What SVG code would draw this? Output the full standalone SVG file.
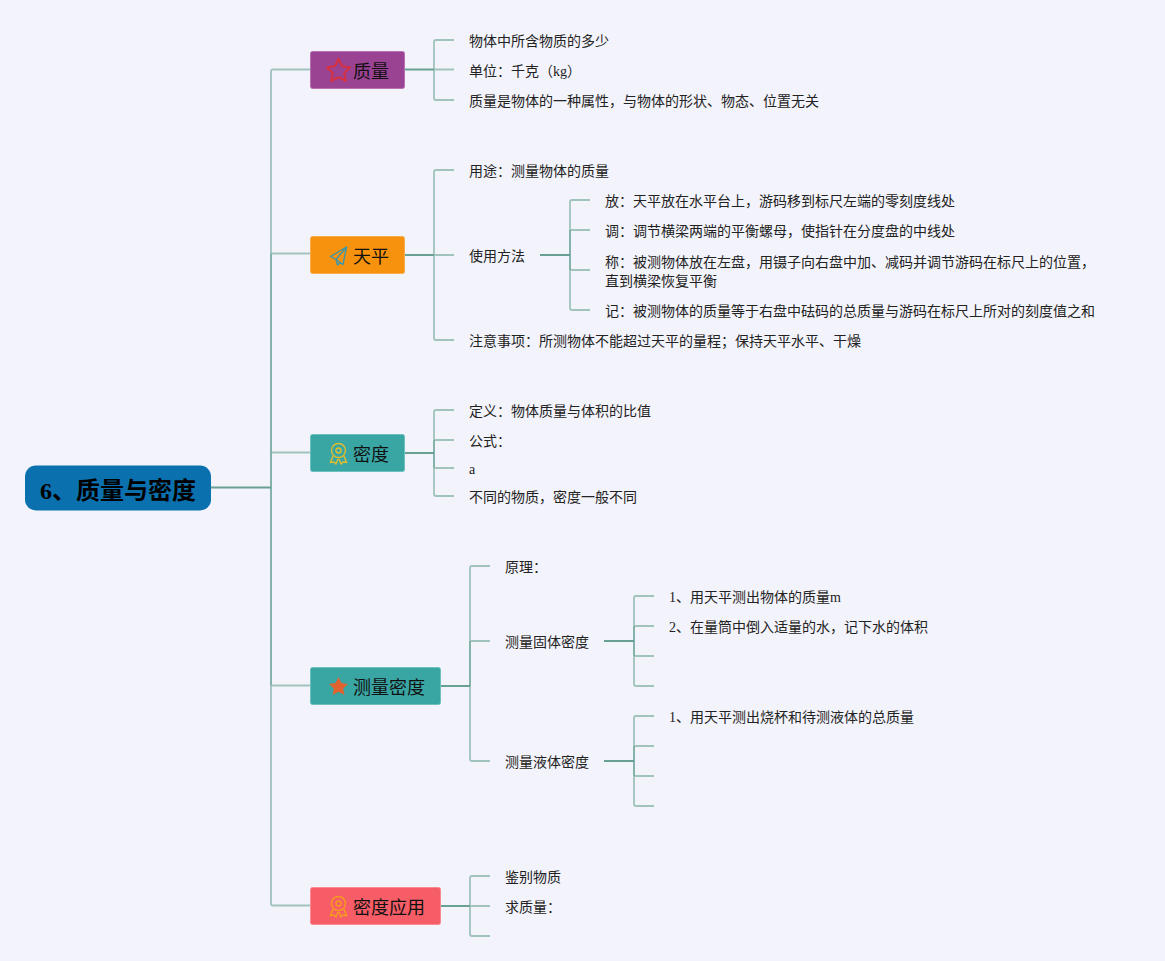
<svg xmlns="http://www.w3.org/2000/svg" width="1165" height="961" viewBox="0 0 1165 961">
<style>
text{font-family:"Liberation Serif","Noto Sans CJK SC",serif;fill:#111}
.l{font-size:14px;fill:#222}
.t{font-size:18px}
.r{font-size:24px;font-weight:700;fill:#000}
.c{fill:none;stroke:#a0c3be;stroke-width:1.800}
.d{fill:none;stroke:#68a093;stroke-width:2}
.s{fill:none;stroke:#68a093;stroke-width:1.800;opacity:.6}
.box{stroke-width:1}
</style>
<rect width="1165" height="961" fill="#f3f3fb"/>
<g id="connectors">
<path class="c" d="M271 904V71.500Q271 69.500 273 69.500H310M271 253.500H310M271 452.500H310M271 685.500H310M271 903.500Q271 905.500 273 905.500H310"/>
<path class="s" d="M271 253.500V685.500"/>
<path class="d" d="M211 487.500H271"/>
<path class="c" d="M434 98V42Q434 40 436 40H454M434 69.500H454M434 98Q434 100 436 100H454"/>
<path class="d" d="M405 69.500H434"/>
<path class="c" d="M434 338V172Q434 170 436 170H454M434 255H454M434 338Q434 340 436 340H454"/>
<path class="d" d="M405 255H434"/>
<path class="c" d="M570 308V202Q570 200 572 200H590M570 230H590M570 270H590M570 308Q570 310 572 310H590"/>
<path class="d" d="M540 255H570"/><path class="s" d="M570 230V270"/>
<path class="c" d="M434 494V412Q434 410 436 410H454M434 440H454M434 468H454M434 494Q434 496 436 496H454"/>
<path class="d" d="M405 453H434"/><path class="s" d="M434 440V468"/>
<path class="c" d="M470 759V568Q470 566 472 566H490M470 641H490M470 759Q470 761 472 761H490"/>
<path class="d" d="M441 686H470"/><path class="s" d="M470 641V686"/>
<path class="c" d="M634 684V598Q634 596 636 596H654M634 626H654M634 656H654M634 684Q634 686 636 686H654"/>
<path class="d" d="M604 641H634"/><path class="s" d="M634 626V656"/>
<path class="c" d="M634 804V718Q634 716 636 716H654M634 746H654M634 776H654M634 804Q634 806 636 806H654"/>
<path class="d" d="M604 761H634"/><path class="s" d="M634 746V776"/>
<path class="c" d="M470 934V878Q470 876 472 876H490M470 906H490M470 934Q470 936 472 936H490"/>
<path class="d" d="M441 906H470"/>
</g>
<g id="root"><rect x="25" y="465.500" width="186" height="45" rx="11" fill="#0b71ae"/><text class="r" x="40" y="499">6、质量与密度</text></g>
<g id="topic-mass"><rect class="box" x="310.500" y="51.500" width="94" height="37" rx="2" fill="#9b4393" stroke="#b870b0"/>
<path d="M338.500 59l3.600 7.300 8 1.100-5.800 5.600 1.400 8-7.200-3.800-7.200 3.800 1.400-8-5.800-5.600 8-1.100z" fill="none" stroke="#d5303f" stroke-width="2" stroke-linejoin="round"/>
<text class="t" x="353" y="78">质量</text></g>
<g id="topic-balance"><rect class="box" x="310.500" y="236.500" width="94" height="37" rx="2" fill="#f6920d" stroke="#f8ac4c"/>
<path d="M346.500 247L330.500 256.500L336 259.500L346.500 247L343 264.500L336 259.500L337.500 265L340.500 262" fill="none" stroke="#3f96a8" stroke-width="1.400" stroke-linejoin="round"/>
<text class="t" x="353" y="263">天平</text></g>
<g id="topic-density"><rect class="box" x="310.500" y="434.500" width="94" height="37" rx="2" fill="#39a6a4" stroke="#6cc0be"/>
<g fill="none" stroke="#e0bc2e" stroke-width="1.400"><circle cx="338.500" cy="450.500" r="7"/><circle cx="338.500" cy="450.500" r="2.500"/><path d="M333 456l-2.500 6.500 3.500-.5 2 2 2-5M344 456l2.500 6.500-3.500-.5-2 2-2-5"/></g>
<text class="t" x="353" y="461">密度</text></g>
<g id="topic-measure"><rect class="box" x="310.500" y="667.500" width="130" height="37" rx="2" fill="#39a6a4" stroke="#6cc0be"/>
<path d="M338.500 677l2.900 6 6.600.9-4.800 4.600 1.200 6.500-5.900-3.200-5.900 3.200 1.200-6.500-4.800-4.600 6.600-.9z" fill="#e0622e"/>
<text class="t" x="353" y="694">测量密度</text></g>
<g id="topic-apply"><rect class="box" x="310.500" y="887.500" width="130" height="37" rx="2" fill="#f65d66" stroke="#f98a90"/>
<g fill="none" stroke="#f59a1f" stroke-width="1.500"><circle cx="338.500" cy="903.500" r="7"/><circle cx="338.500" cy="903.500" r="2.500"/><path d="M333 909l-2.500 6.500 3.500-.5 2 2 2-5M344 909l2.500 6.500-3.500-.5-2 2-2-5"/></g>
<text class="t" x="353" y="914">密度应用</text></g>
<g id="mass-items">
<text class="l" x="469" y="46">物体中所含物质的多少</text>
<text class="l" x="469" y="76">单位：千克（kg）</text>
<text class="l" x="469" y="106">质量是物体的一种属性，与物体的形状、物态、位置无关</text>
</g>
<g id="balance-items">
<text class="l" x="469" y="176">用途：测量物体的质量</text>
<text class="l" x="469" y="261">使用方法</text>
<text class="l" x="469" y="346">注意事项：所测物体不能超过天平的量程；保持天平水平、干燥</text>
<text class="l" x="605" y="206">放：天平放在水平台上，游码移到标尺左端的零刻度线处</text>
<text class="l" x="605" y="236">调：调节横梁两端的平衡螺母，使指针在分度盘的中线处</text>
<text class="l" x="605" y="267">称：被测物体放在左盘，用镊子向右盘中加、减码并调节游码在标尺上的位置，</text>
<text class="l" x="605" y="286">直到横梁恢复平衡</text>
<text class="l" x="605" y="316">记：被测物体的质量等于右盘中砝码的总质量与游码在标尺上所对的刻度值之和</text>
</g>
<g id="density-items">
<text class="l" x="469" y="416">定义：物体质量与体积的比值</text>
<text class="l" x="469" y="446">公式：</text>
<text class="l" x="469" y="474">a</text>
<text class="l" x="469" y="502">不同的物质，密度一般不同</text>
</g>
<g id="measure-items">
<text class="l" x="505" y="572">原理：</text>
<text class="l" x="505" y="647">测量固体密度</text>
<text class="l" x="505" y="767">测量液体密度</text>
<text class="l" x="669" y="602">1、用天平测出物体的质量m</text>
<text class="l" x="669" y="632">2、在量筒中倒入适量的水，记下水的体积</text>
<text class="l" x="669" y="722">1、用天平测出烧杯和待测液体的总质量</text>
</g>
<g id="apply-items">
<text class="l" x="505" y="882">鉴别物质</text>
<text class="l" x="505" y="912">求质量：</text>
</g>
</svg>
